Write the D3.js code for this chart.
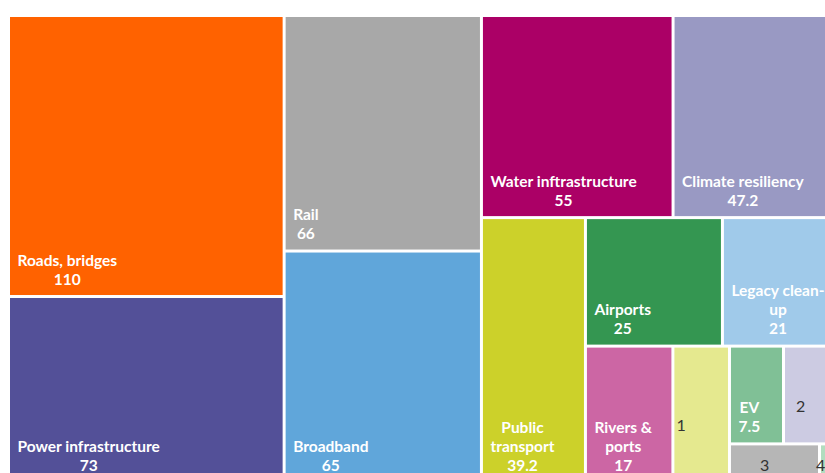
<!DOCTYPE html>
<html>
<head>
<meta charset="utf-8">
<script src="https://cdn.jsdelivr.net/npm/d3@7"></script>
<style>
  html, body { margin: 0; padding: 0; background: #fff; overflow: hidden; }
  svg { display: block; }
  .lbl { font-family: Lato, "Open Sans", sans-serif; font-weight: 700; font-size: 15.5px; fill: #fff; }
  .note { font-family: Lato, "Open Sans", sans-serif; font-weight: 400; font-size: 16px; fill: #333; }
</style>
</head>
<body>
<svg id="chart" width="825" height="473"></svg>
<script>
// Infrastructure spending by category ($bn)
const categories = ["Roads, bridges", "Power infrastructure", "Rail", "Broadband",
  "Water inftrastructure", "Climate resiliency", "Public transport", "Airports",
  "Legacy clean-up", "Rivers & ports", "1", "EV", "2", "3", "4"];
const values = [110, 73, 66, 65, 55, 47.2, 39.2, 25, 21, 17, 11, 7.5, 7.5, 5, 1];
const valueLabels = ["110", "73", "66", "65", "55", "47.2", "39.2", "25", "21", "17", "", "7.5", "", "", ""];
const colors = ["#ff6200", "#535098", "#a8a8a8", "#60a6da", "#ab0066", "#9999c3",
  "#ccd12a", "#349651", "#a0caea", "#cc66a4", "#e5e98f", "#80c096", "#cccbe2", "#b6b6b6", "#b2ddbf"];

// Number of cells in each successive strip of the tiling
const stripCounts = [2, 2, 2, 1, 2, 1, 1, 2, 1, 1];

// Strip tiling: each strip is laid along the shorter side of the remaining area
function stripTile(parent, x0, y0, x1, y1) {
  const nodes = parent.children;
  let i = 0, value = parent.value;
  for (const count of stripCounts) {
    if (i >= nodes.length) break;
    const row = { children: nodes.slice(i, i + count) };
    row.value = d3.sum(row.children, d => d.value);
    const dx = x1 - x0, dy = y1 - y0;
    if (dx < dy) {
      const yk = y0 + dy * row.value / value;
      d3.treemapDice(row, x0, y0, x1, yk);
      y0 = yk;
    } else {
      const xk = x0 + dx * row.value / value;
      d3.treemapSlice(row, x0, y0, xk, y1);
      x0 = xk;
    }
    value -= row.value;
    i += count;
  }
}

const data = {
  name: "root",
  children: categories.map((c, i) => ({ name: c, value: values[i], label: valueLabels[i], color: colors[i] }))
};

const root = d3.hierarchy(data).sum(d => d.value || 0);
d3.treemap().size([826, 464.5]).paddingInner(3).tile(stripTile)(root);

const svg = d3.select("#chart");
const g = svg.append("g").attr("transform", "translate(10,17)");

const cells = g.selectAll("g.cell").data(root.leaves()).join("g").attr("class", "cell");

cells.append("rect")
  .attr("x", d => d.x0).attr("y", d => d.y0)
  .attr("width", d => d.x1 - d.x0).attr("height", d => d.y1 - d.y0)
  .attr("fill", d => d.data.color);

const isNote = d => /^\d+$/.test(d.data.name);
const lineH = 19, padX = 7.5, padBottom = 10.5;

// Greedy word wrap (breaks at spaces and after hyphens)
function wrapLines(text, maxW, measure) {
  const tokens = text.match(/[^\s-]+-?/g);
  const lines = [];
  let cur = "";
  tokens.forEach(t => {
    const joiner = cur === "" ? "" : (cur.endsWith("-") ? "" : " ");
    const trial = cur + joiner + t;
    if (cur !== "" && measure(trial) > maxW) { lines.push(cur); cur = t; }
    else cur = trial;
  });
  if (cur) lines.push(cur);
  return lines;
}

const probe = svg.append("text").attr("class", "lbl").attr("x", -999).attr("y", -999);
const measure = s => { probe.text(s); return probe.node().getComputedTextLength(); };

cells.filter(d => !isNote(d)).each(function (d) {
  const w = d.x1 - d.x0;
  const lines = wrapLines(d.data.name, w - 2 * padX, measure);
  lines.push(d.data.label);
  const blockW = d3.max(lines, measure);
  const cx = d.x0 + padX + blockW / 2;
  const yLast = d.y1 - padBottom;
  const t = d3.select(this).append("text").attr("class", "lbl").attr("text-anchor", "middle");
  lines.forEach((ln, k) => {
    t.append("tspan").attr("x", cx).attr("y", yLast - (lines.length - 1 - k) * lineH).text(ln);
  });
});
probe.remove();

// Footnote markers for the small unlabelled cells: [dx from left edge, dy from vertical centre]
const noteNudge = { "1": [2, 16], "2": [11, 17], "3": [29, 7.5], "4": [-5, 7.5] };
cells.filter(isNote).append("text")
  .attr("class", "note")
  .attr("x", d => d.x0 + noteNudge[d.data.name][0])
  .attr("y", d => (d.y0 + d.y1) / 2 + noteNudge[d.data.name][1])
  .text(d => d.data.name);
</script>
</body>
</html>
